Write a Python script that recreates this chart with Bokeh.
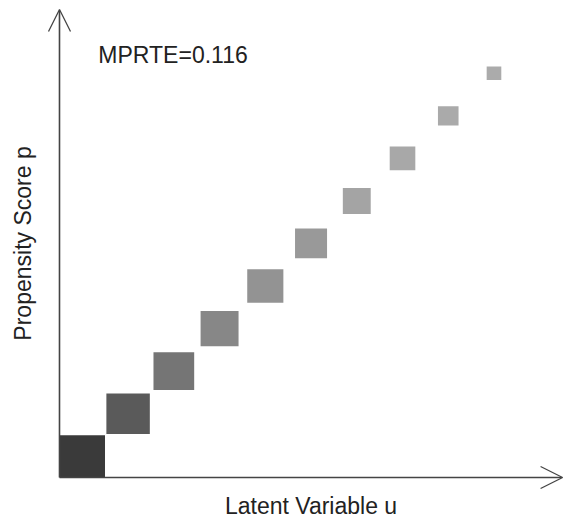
import math
from bokeh.plotting import figure
from bokeh.models import ColumnDataSource, Range1d, Arrow, OpenHead, Label
from bokeh.embed import file_html
from bokeh.resources import INLINE

# ---- data ----
u_bins = [0.05, 0.15, 0.25, 0.35, 0.45, 0.55, 0.65, 0.75, 0.85, 0.95]
p_bins = [0.05, 0.15, 0.25, 0.35, 0.45, 0.55, 0.65, 0.75, 0.85, 0.95]
weights = [0.099, 0.095, 0.089, 0.083, 0.079, 0.070, 0.061, 0.056, 0.045, 0.032]
shades = ["#3a3a3a", "#5a5a5a", "#757575", "#878787", "#939393",
          "#999999", "#a4a4a4", "#a8a8a8", "#aaaaaa", "#ababab"]
mprte_text = "MPRTE=0.116"
x_title = "Latent Variable u"
y_title = "Propensity Score p"
axis_max = 1.1

FONT = "Liberation Sans"
FS = "23px"
TXT = "#222222"
AX = "#444444"

src = ColumnDataSource(dict(u=u_bins, p=p_bins, w=weights, c=shades))

p = figure(width=563, height=521, output_backend="svg", toolbar_location=None,
           x_range=Range1d(-0.129, 1.102), y_range=Range1d(-0.1034, 1.121),
           min_border=0)
p.axis.visible = False
p.outline_line_color = None
p.xgrid.visible = False
p.ygrid.visible = False
p.background_fill_color = "white"
p.border_fill_color = "white"

p.rect(x="u", y="p", width="w", height="w", fill_color="c", line_color=None, source=src)

p.add_layout(Arrow(end=OpenHead(size=22, line_width=1.3, line_color=AX),
                   x_start=0, y_start=0, x_end=axis_max, y_end=0,
                   line_color=AX, line_width=1.6))
p.add_layout(Arrow(end=OpenHead(size=22, line_width=1.3, line_color=AX),
                   x_start=0, y_start=0, x_end=0, y_end=axis_max,
                   line_color=AX, line_width=1.6))

p.add_layout(Label(x=0.085, y=0.993, text=mprte_text, text_font=FONT,
                   text_font_size=FS, text_color=TXT, text_baseline="middle"))
p.add_layout(Label(x=axis_max / 2, y=-0.067, text=x_title, text_font=FONT,
                   text_font_size=FS, text_color=TXT, text_align="center",
                   text_baseline="middle"))
p.add_layout(Label(x=-0.0798, y=axis_max / 2, text=y_title, text_font=FONT,
                   text_font_size=FS, text_color=TXT, text_align="center",
                   text_baseline="middle", angle=math.pi / 2))

open("out.html", "w").write(file_html(p, INLINE))
